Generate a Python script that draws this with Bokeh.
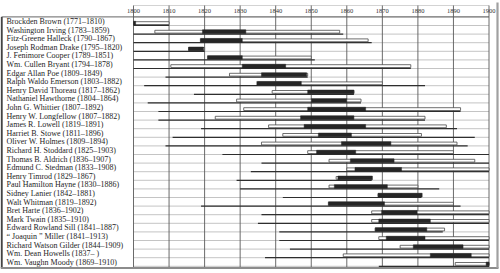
from bokeh.plotting import figure
from bokeh.models import Range1d, ColumnDataSource
from bokeh.core.properties import value
from bokeh.embed import file_html
from bokeh.resources import INLINE

# ---------------- data ----------------
names = [
    "Brockden Brown (1771–1810)",
    "Washington Irving (1783–1859)",
    "Fitz-Greene Halleck (1790–1867)",
    "Joseph Rodman Drake (1795–1820)",
    "J. Fenimore Cooper (1789–1851)",
    "Wm. Cullen Bryant (1794–1878)",
    "Edgar Allan Poe (1809–1849)",
    "Ralph Waldo Emerson (1803–1882)",
    "Henry David Thoreau (1817–1862)",
    "Nathaniel Hawthorne (1804–1864)",
    "John G. Whittier (1807–1892)",
    "Henry W. Longfellow (1807–1882)",
    "James R. Lowell (1819–1891)",
    "Harriet B. Stowe (1811–1896)",
    "Oliver W. Holmes (1809–1894)",
    "Richard H. Stoddard (1825–1903)",
    "Thomas B. Aldrich (1836–1907)",
    "Edmund C. Stedman (1833–1908)",
    "Henry Timrod (1829–1867)",
    "Paul Hamilton Hayne (1830–1886)",
    "Sidney Lanier (1842–1881)",
    "Walt Whitman (1819–1892)",
    "Bret Harte (1836–1902)",
    "Mark Twain (1835–1910)",
    "Edward Rowland Sill (1841–1887)",
    "\u201c Joaquin \u201d Miller (1841–1913)",
    "Richard Watson Gilder (1844–1909)",
    "Wm. Dean Howells (1837–       )",
    "Wm. Vaughn Moody (1869–1910)",
]
born = [1771, 1783, 1790, 1795, 1789, 1794, 1809, 1803, 1817, 1804, 1807, 1807, 1819, 1811,
        1809, 1825, 1836, 1833, 1829, 1830, 1842, 1819, 1836, 1835, 1841, 1841, 1844, 1837, 1869]
died = [1810, 1859, 1867, 1820, 1851, 1878, 1849, 1882, 1862, 1864, 1892, 1882, 1891, 1896,
        1894, 1903, 1907, 1908, 1867, 1886, 1881, 1892, 1902, 1910, 1887, 1913, 1909, 1920, 1910]
career_start = [1800, 1806, 1819, 1815.5, 1821, 1810.5, 1827, 1835, 1839, 1829, 1831, 1823, 1838, 1842,
                1836, 1849, 1855, 1860, 1857, 1855, 1868.8, 1855, 1867, 1867, 1868, 1869, 1875, 1859, 1890.5]
career_end = [1810, 1858, 1866, 1820, 1850, 1878, 1849, 1870, 1862, 1864, 1892, 1882, 1888, 1881,
              1891, 1890, 1896, 1900, 1867, 1880, 1881, 1890, 1900, 1900, 1887.5, 1900, 1900, 1900, 1900]
prime_start = [1800, 1819.4, 1818.8, 1815.5, 1820.8, 1830.6, 1836, 1834.7, 1849, 1850, 1849, 1847, 1848, 1852,
               1858.5, 1851.5, 1861, 1862.3, 1857.5, 1856.5, 1868.8, 1854.8, 1869.8, 1869, 1868, 1871.1, 1878.7, 1883.5, 1899.2]
prime_end = [1800.6, 1831.6, 1830.6, 1819.7, 1830.6, 1842.8, 1848.7, 1847.2, 1862, 1860, 1865.3, 1862, 1865.3, 1861.3,
             1872.4, 1862.5, 1873.3, 1875.4, 1867.2, 1871.4, 1881.2, 1870.6, 1879.8, 1883.5, 1882.5, 1882, 1892.7, 1895, 1900]
decades = [1800, 1810, 1820, 1830, 1840, 1850, 1860, 1870, 1880, 1890, 1900]
decade_labels = [str(d) for d in decades]

# ---------------- layout helpers ----------------
W, H = 500, 273
X0PX, PXYR = 133.0, 3.555      # pixel of 1800, pixels per year
Y0PX, PXROW = 25.0, 8.6         # pixel of first row line, pixels per row
def xpx(px):
    return 1800 + (px - X0PX) / PXYR
def ypx(px):
    return (px - Y0PX) / PXROW

n = len(names)
rows = list(range(n))
p = figure(width=W, height=H, output_backend="svg", toolbar_location=None,
           x_range=Range1d(xpx(0), xpx(W)), y_range=Range1d(ypx(H), ypx(0)),
           min_border=0, outline_line_color=None)
p.axis.visible = False
p.grid.visible = False
p.background_fill_color = "white"
p.border_fill_color = "white"

top_y = ypx(16.4)
bot_y = ypx(267.5)

# horizontal row separators (light)
p.segment(x0=[1800] * (n + 1), x1=[1900] * (n + 1), y0=[-1] + rows, y1=[-1] + rows,
          line_color="#b5b5b5", line_width=0.8)
# top line of header
p.segment(x0=[1800], x1=[1900], y0=[ypx(5)], y1=[ypx(5)], line_color="#c8c8c8", line_width=0.8)
# full-width line under header
p.segment(x0=[xpx(1)], x1=[1900], y0=[top_y], y1=[top_y], line_color="#555555", line_width=0.9)

# vertical decade gridlines
p.segment(x0=decades, x1=decades, y0=[ypx(5)] * len(decades), y1=[bot_y] * len(decades),
          line_color="#5a5a5a", line_width=0.9)

# decade labels
p.text(x=decades, y=[ypx(10.5)] * len(decades), text=decade_labels,
       text_font=value("Liberation Serif"), text_font_size="6.5px",
       text_align="center", text_baseline="middle", text_color="#333333")

# lifespan lines (clipped to 1800-1900)
life_l = [max(b, 1800) for b in born]
life_r = [min(d, 1900) for d in died]
p.segment(x0=life_l, x1=life_r, y0=rows, y1=rows, line_color="#2e2e2e", line_width=1.2)

# career (white) bars and prime (black) bars
bar_y = [r - 2.4 / PXROW for r in rows]
src = ColumnDataSource(dict(y=bar_y, cs=career_start, ce=career_end, ps=prime_start, pe=prime_end))
p.hbar(y="y", left="cs", right="ce", height=2.8 / PXROW, source=src,
       fill_color="white", line_color="#4a4a4a", line_width=0.8)
p.hbar(y="y", left="ps", right="pe", height=3.7 / PXROW, source=src,
       fill_color="#262626", line_color="#262626", line_width=0.5)

# author labels
p.text(x=[xpx(6)] * n, y=[r - 4.0 / PXROW for r in rows], text=names,
       text_font=value("Liberation Serif"), text_font_size="8px",
       text_align="left", text_baseline="middle", text_color="#1e1e1e")

# outer frame lines
p.segment(x0=[xpx(1.2)], x1=[xpx(1.2)], y0=[top_y], y1=[bot_y], line_color="#444444", line_width=2)
p.segment(x0=[xpx(0)], x1=[xpx(498)], y0=[bot_y], y1=[bot_y], line_color="#8c8c8c", line_width=2.2)
p.segment(x0=[xpx(497)], x1=[xpx(497)], y0=[ypx(2)], y1=[bot_y], line_color="#a0a0a0", line_width=2.2)

open("out.html", "w").write(file_html(p, INLINE))
